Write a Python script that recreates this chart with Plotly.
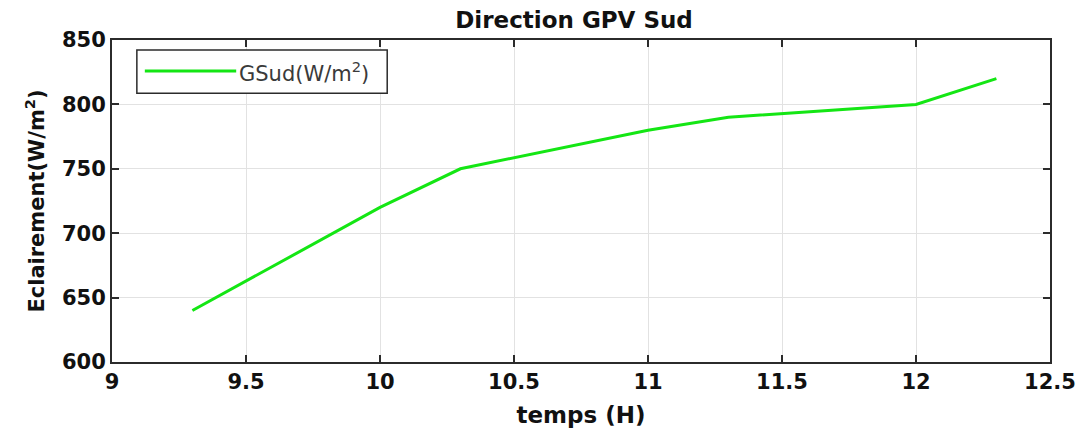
import plotly.graph_objects as go

temps = [9.3, 10.0, 10.3, 11.0, 11.3, 12.0, 12.3]
gsud = [640, 720, 750, 780, 790, 800, 820]
series_name = "GSud(W/m<sup>2</sup>)"
x_ticks = [9, 9.5, 10, 10.5, 11, 11.5, 12, 12.5]
x_labels = ["9", "9.5", "10", "10.5", "11", "11.5", "12", "12.5"]
y_ticks = [600, 650, 700, 750, 800, 850]
y_labels = ["600", "650", "700", "750", "800", "850"]

GREEN = "rgb(20,230,20)"
BOLD = "DejaVu Sans, Verdana, Arial"

fig = go.Figure()
fig.add_trace(go.Scatter(x=temps, y=gsud, mode="lines", name=series_name,
                         line=dict(color=GREEN, width=3), showlegend=False))

axis_common = dict(showline=True, linecolor="#2b2b2b", linewidth=2, mirror="allticks",
                   ticks="inside", ticklen=7, tickwidth=2, tickcolor="#2b2b2b",
                   showgrid=True, gridcolor="#e2e2e2", gridwidth=1, zeroline=False,
                   tickfont=dict(family=BOLD, size=21, color="#111"))

fig.update_layout(
    width=1080, height=429,
    margin=dict(l=104, r=32, t=32, b=75),
    paper_bgcolor="white", plot_bgcolor="white",
    title=dict(text="<b>Direction GPV Sud</b>", xref="paper", x=0.4926, xanchor="center",
               y=0.972, yanchor="middle",
               font=dict(family=BOLD, size=23, color="#111")),
    xaxis=dict(range=[9, 12.5], tickvals=x_ticks,
               ticktext=["<b>%s</b>" % t for t in x_labels],
               title=dict(text="<b>temps (H)</b>", standoff=14,
                          font=dict(family=BOLD, size=23, color="#111")),
               **axis_common),
    yaxis=dict(range=[600, 850], tickvals=y_ticks,
               ticktext=["<b>%s</b>" % t for t in y_labels],
               title=dict(text="<b>Eclairement(W/m<sup>2</sup>)</b>", standoff=12,
                          font=dict(family=BOLD, size=21, color="#111")),
               **axis_common),
)

# MATLAB-style legend box drawn in paper coordinates
fig.add_shape(type="rect", xref="paper", yref="paper", x0=0.0265, x1=0.2934, y0=0.835, y1=0.969,
              line=dict(color="#2b2b2b", width=1.5), fillcolor="white", layer="above")
fig.add_shape(type="line", xref="paper", yref="paper", x0=0.035, x1=0.1324, y0=0.904, y1=0.904,
              line=dict(color=GREEN, width=3), layer="above")
fig.add_annotation(xref="paper", yref="paper", x=0.1335, y=0.900, xanchor="left", yanchor="middle",
                   text=series_name, showarrow=False,
                   font=dict(family="DejaVu Sans, Arial", size=21, color="#3a3a3a"))

fig.write_html("out.html")
